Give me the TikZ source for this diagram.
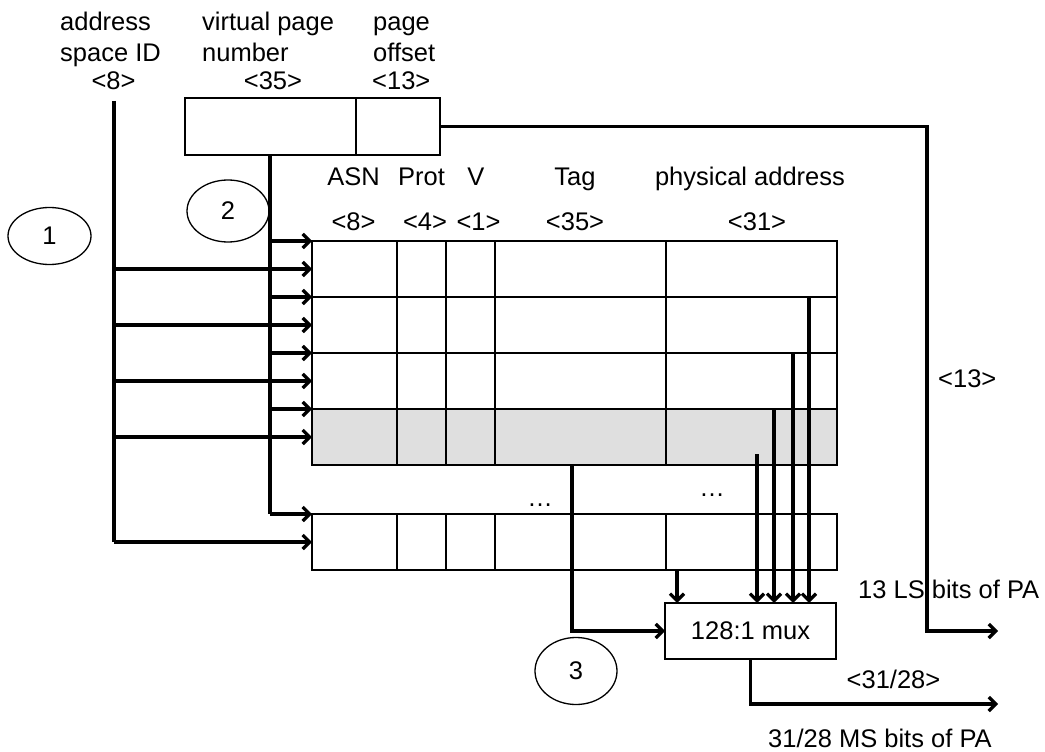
\documentclass[tikz,border=0pt]{standalone}
\usepackage{fontspec}
\setmainfont{Liberation Sans}
\usetikzlibrary{arrows.meta,shapes.geometric}
\definecolor{rowgray}{HTML}{DFDFDF}

\begin{document}
\begin{tikzpicture}[x=1pt,y=-1pt,
  txt/.style={inner sep=0pt, font=\fontsize{25.5}{29}\selectfont},
  cell/.style={draw, line width=1.6pt, inner sep=0pt, outer sep=0pt},
  tlbrow/.style={cell, minimum width=525pt, minimum height=56pt, anchor=north west},
  wire/.style={line width=3.2pt},
  feed/.style={wire, -{Straight Barb[length=7pt,width=14pt]}},
  bubble/.style={ellipse, draw, line width=1.3pt, inner sep=0pt,
                 font=\fontsize{25.5}{29}\selectfont}]
\useasboundingbox (0,0) rectangle (1045,752);

% ---- virtual address fields ----
\node[txt, anchor=base west] (asidA) at (60,31) {address};
\node[txt, anchor=base west] (asidB) at (60,62) {space ID};
\node[txt, anchor=base] (asidW) at (113.5,89) {<8>};
\node[txt, anchor=base west] (vpnA) at (202,31) {virtual page};
\node[txt, anchor=base west] (vpnB) at (202,62) {number};
\node[txt, anchor=base] (vpnW) at (273,89) {<35>};
\node[txt, anchor=base west] (offA) at (373,31) {page};
\node[txt, anchor=base west] (offB) at (373,62) {offset};
\node[txt, anchor=base west] (offW) at (372,89) {<13>};

\node[cell, line width=2pt, minimum width=255pt, minimum height=57pt,
      anchor=north west] (va) at (185,98) {};
\draw[cell, line width=2pt] (356,98) -- (356,155);

% ---- TLB column headings ----
\node[txt, anchor=base] (hASN) at (353.5,185) {ASN};
\node[txt, anchor=base] (hProt) at (421.5,185) {Prot};
\node[txt, anchor=base] (hV) at (476,185) {V};
\node[txt, anchor=base] (hTag) at (575,185) {Tag};
\node[txt, anchor=base] (hPA) at (750,185) {physical address};
\node[txt, anchor=base] (wASN) at (353.5,230) {<8>};
\node[txt, anchor=base] (wProt) at (425,230) {<4>};
\node[txt, anchor=base] (wV) at (478.5,230) {<1>};
\node[txt, anchor=base] (wTag) at (575,230) {<35>};
\node[txt, anchor=base] (wPA) at (757,230) {<31>};

% ---- TLB entries ----
\node[tlbrow] (row1) at (312,241) {};
\node[tlbrow] (row2) at (312,297) {};
\node[tlbrow] (row3) at (312,353) {};
\node[tlbrow, fill=rowgray] (row4) at (312,409) {};
\node[tlbrow] (rowN) at (312,514) {};
\foreach \c in {397,446,495,666}{
  \draw[cell] (\c,241) -- (\c,465);
  \draw[cell] (\c,514) -- (\c,570);
}
\node[txt, anchor=base] (dotsL) at (540,506) {…};
\node[txt, anchor=base] (dotsR) at (712,496) {…};

% ---- bubbles ----
\node[bubble, minimum width=83pt, minimum height=57pt] (b1) at (49.5,236) {1};
\node[bubble, minimum width=82pt, minimum height=62pt] (b2) at (228,211) {2};
\node[bubble, minimum width=82pt, minimum height=67pt] (b3) at (576,671) {3};

% ---- address space ID fan-out ----
\coordinate (asid) at (114,101);
\draw[wire] (asid) -- (asid |- rowN.west);
\foreach \r in {row1,row2,row3,row4}
  \draw[feed] (asid |- \r.west) -- (\r.west);
\draw[feed] (asid |- rowN.west) -- (rowN.west);

% ---- virtual page number fan-out ----
\coordinate (vpn) at (270,155);
\draw[wire] (vpn) -- (vpn |- rowN.north west);
\foreach \r in {row1,row2,row3}
  \draw[feed] (vpn |- \r.north west) -- (\r.north west);
\draw[feed] ([xshift=-2pt]vpn |- row4.north west) -- (row4.north west);
\draw[feed] (vpn |- rowN.north west) -- (rowN.north west);

% ---- multiplexer ----
\node[cell, minimum width=171pt, minimum height=56pt, anchor=north west,
      font=\fontsize{25.5}{29}\selectfont] (mux) at (665,603) {128:1 mux};

\coordinate (p1) at (809,297);
\coordinate (p2) at (793,353);
\coordinate (p3) at (774,409);
\coordinate (p4) at (757,454);
\coordinate (pN) at (677,570);
\foreach \p in {p1,p2,p3,p4,pN}
  \draw[feed] (\p) -- (\p |- mux.north);

\coordinate (tg) at (572,465);
\draw[feed] (tg) |- (mux.west);

% ---- outputs ----
\coordinate (lsb) at (998,631);
\coordinate (msb) at (998,704);
\draw[feed] (va.east) -| (927,631) -- (lsb);
\draw[feed] (mux.south) |- (msb);

\node[txt, anchor=base west] (w13) at (938,387) {<13>};
\node[txt, anchor=base west] (ls) at (858,598) {13 LS bits of PA};
\node[txt, anchor=base] (w3128) at (893.5,688) {<31/28>};
\node[txt, anchor=base west] (ms) at (768,747) {31/28 MS bits of PA};
\end{tikzpicture}
\end{document}
